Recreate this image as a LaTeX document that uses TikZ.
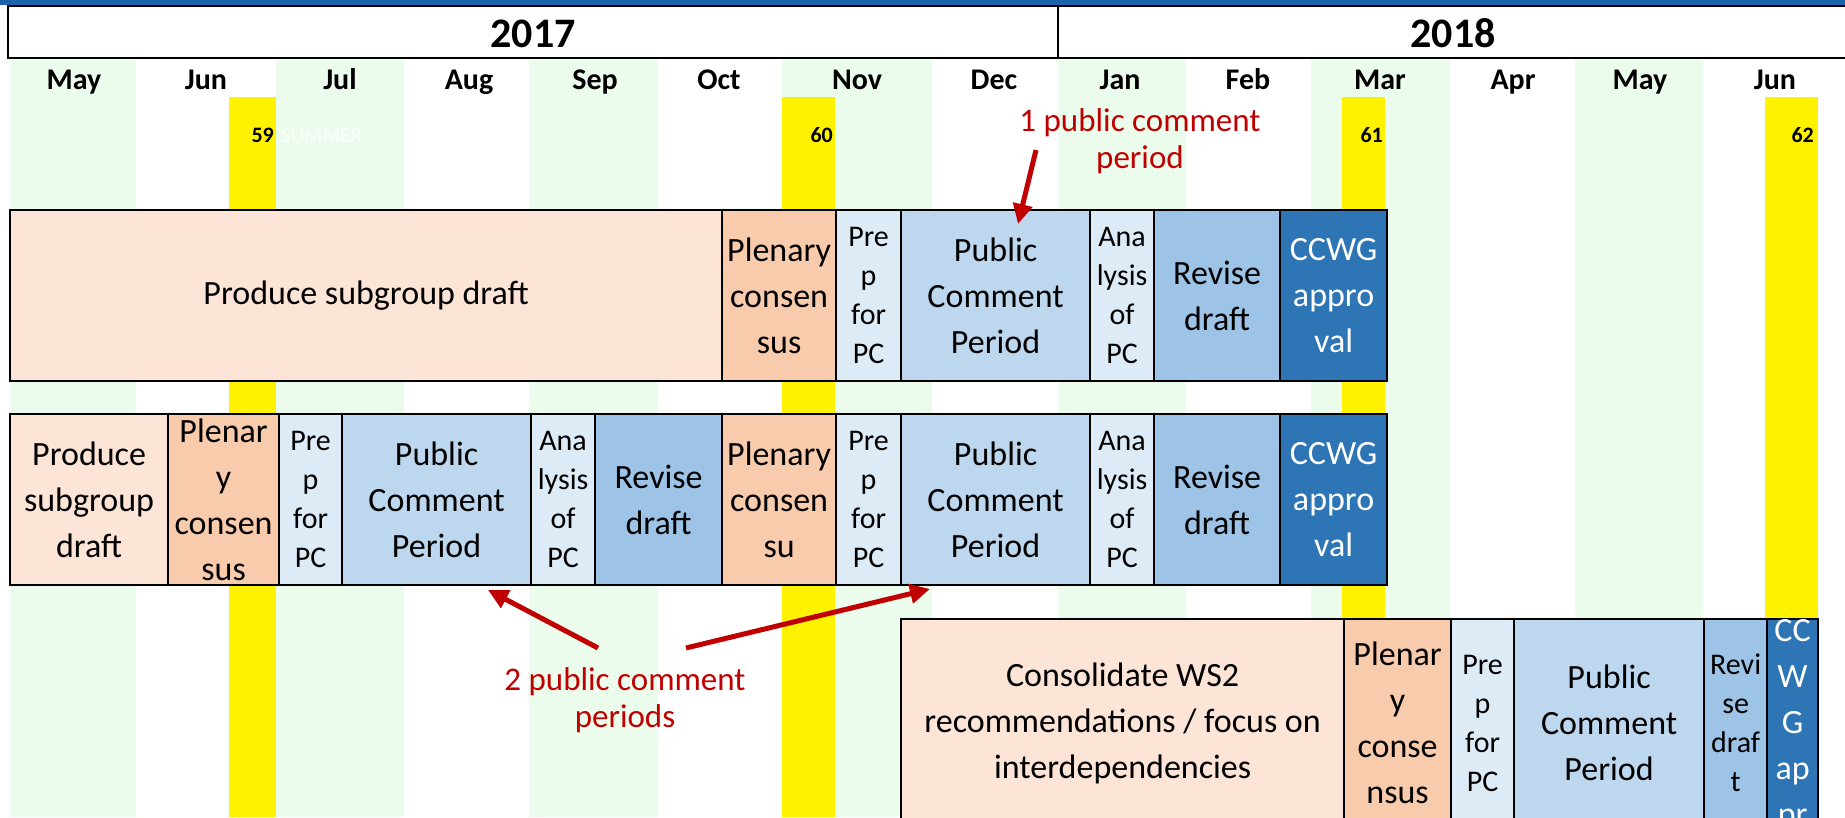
\documentclass[tikz,border=0pt]{standalone}
\usepackage{fontspec}
\setmainfont{Carlito}
\usetikzlibrary{arrows.meta}
\definecolor{bandblue}{RGB}{30,100,172}
\definecolor{gbg}{RGB}{235,252,236}
\definecolor{produce}{RGB}{252,228,214}
\definecolor{plenary}{RGB}{248,203,173}
\definecolor{prepc}{RGB}{221,235,247}
\definecolor{pubc}{RGB}{189,215,238}
\definecolor{revise}{RGB}{157,195,230}
\definecolor{ccwg}{RGB}{46,117,182}
\definecolor{annot}{RGB}{192,0,0}
\begin{document}
\begin{tikzpicture}[x=1pt,y=-1pt,
  seg/.style={draw=black, line width=2.2pt, inner sep=0pt, align=center, anchor=north west,
    font=\fontsize{34}{46}\selectfont},
  smalltxt/.style={font=\fontsize{30}{39}\selectfont},
  whitetxt/.style={text=white},
  month/.style={font=\fontsize{30}{34}\selectfont\bfseries, anchor=base, inner sep=0pt},
  year/.style={font=\fontsize{42}{48}\selectfont\bfseries, anchor=base, inner sep=0pt},
  meetnum/.style={font=\fontsize{22}{24}\selectfont\bfseries, anchor=base east, inner sep=0pt},
  annottxt/.style={font=\fontsize{33}{37}\selectfont, text=annot, align=center, inner sep=0pt},
  annotarrow/.style={draw=annot, line width=5pt, -{Triangle[length=20pt,width=19pt]}},
  r1/.style={minimum height=171pt},
  r3/.style={minimum height=208pt}
]
\useasboundingbox (0,0) rectangle (1845,817);
\clip (0,0) rectangle (1845,817);
\fill[white] (0,0) rectangle (1845,817);
% top band
\fill[bandblue] (0,0) rectangle (1845,5);
% green month columns
\foreach \a/\b in {10/136,276/404,529/658,782/932,1058/1186,1311/1450,1575/1703}
  \fill[gbg] (\a,60) rectangle (\b,817);
% yellow meeting columns
\foreach \a/\b in {229/276,782/835,1342/1385,1765/1818}
  \fill[yellow] (\a,97) rectangle (\b,817);
% header
\draw[line width=2.5pt, fill=white] (8,6) rectangle (1850,58);
\draw[line width=2pt] (1058,6) -- (1058,58);
\node[year] (y2017) at (533,47) {2017};
\node[year] (y2018) at (1453,47) {2018};
% months
\node[month] (m1) at (74,89) {May};
\node[month] (m2) at (206,89) {Jun};
\node[month] (m3) at (340,89) {Jul};
\node[month] (m4) at (469,89) {Aug};
\node[month] (m5) at (595,89) {Sep};
\node[month] (m6) at (719,89) {Oct};
\node[month] (m7) at (857,89) {Nov};
\node[month] (m8) at (994,89) {Dec};
\node[month] (m9) at (1120,89) {Jan};
\node[month] (m10) at (1248,89) {Feb};
\node[month] (m11) at (1380,89) {Mar};
\node[month] (m12) at (1513,89) {Apr};
\node[month] (m13) at (1640,89) {May};
\node[month] (m14) at (1775,89) {Jun};
% meeting numbers
\node[meetnum] (n59) at (274,142) {59};
\node[font=\fontsize{21}{24}\selectfont, text=white, anchor=base west, inner sep=0pt] (summer) at (281,142) {SUMMER};
\node[meetnum] (n60) at (833,142) {60};
\node[meetnum] (n61) at (1383,142) {61};
\node[meetnum] (n62) at (1814,142) {62};
% row 1
\node[seg,r1,fill=produce,minimum width=712pt] (r1a) at (9,209) {Produce subgroup draft};
\node[seg,r1,fill=plenary,minimum width=114pt] (r1b) at (721,209) {Plenary\\consen\\sus};
\node[seg,r1,smalltxt,fill=prepc,minimum width=65pt] (r1c) at (835,209) {Pre\\p\\for\\PC};
\node[seg,r1,fill=pubc,minimum width=189pt] (r1d) at (900,209) {Public\\Comment\\Period};
\node[seg,r1,smalltxt,fill=prepc,minimum width=64pt] (r1e) at (1089,209) {Ana\\lysis\\of\\PC};
\node[seg,r1,fill=revise,minimum width=126pt] (r1f) at (1153,209) {Revise\\draft};
\node[seg,r1,whitetxt,fill=ccwg,minimum width=107pt] (r1g) at (1279,209) {CCWG\\appro\\val};
% row 2
\node[seg,r1,fill=produce,minimum width=158pt] (r2a) at (9,413) {Produce\\subgroup\\draft};
\node[seg,r1,fill=plenary,minimum width=111pt] (r2b) at (167,413) {Plenar\\y\\consen\\sus};
\node[seg,r1,smalltxt,fill=prepc,minimum width=63pt] (r2c) at (278,413) {Pre\\p\\for\\PC};
\node[seg,r1,fill=pubc,minimum width=189pt] (r2d) at (341,413) {Public\\Comment\\Period};
\node[seg,r1,smalltxt,fill=prepc,minimum width=64pt] (r2e) at (530,413) {Ana\\lysis\\of\\PC};
\node[seg,r1,fill=revise,minimum width=127pt] (r2f) at (594,413) {Revise\\draft};
\node[seg,r1,fill=plenary,minimum width=114pt] (r2g) at (721,413) {Plenary\\consen\\su};
\node[seg,r1,smalltxt,fill=prepc,minimum width=65pt] (r2h) at (835,413) {Pre\\p\\for\\PC};
\node[seg,r1,fill=pubc,minimum width=189pt] (r2i) at (900,413) {Public\\Comment\\Period};
\node[seg,r1,smalltxt,fill=prepc,minimum width=64pt] (r2j) at (1089,413) {Ana\\lysis\\of\\PC};
\node[seg,r1,fill=revise,minimum width=126pt] (r2k) at (1153,413) {Revise\\draft};
\node[seg,r1,whitetxt,fill=ccwg,minimum width=107pt] (r2l) at (1279,413) {CCWG\\appro\\val};
% row 3
\node[seg,r3,fill=produce,minimum width=443pt] (r3a) at (900,618) {Consolidate WS2\\recommendations / focus on\\interdependencies};
\node[seg,r3,fill=plenary,minimum width=107pt] (r3b) at (1343,618) {Plenar\\y\\conse\\nsus};
\node[seg,r3,smalltxt,fill=prepc,minimum width=63pt] (r3c) at (1450,618) {Pre\\p\\for\\PC};
\node[seg,r3,fill=pubc,minimum width=190pt] (r3d) at (1513,618) {Public\\Comment\\Period};
\node[seg,r3,smalltxt,fill=revise,minimum width=63pt] (r3e) at (1703,618) {Revi\\se\\draf\\t};
\node[seg,r3,whitetxt,fill=ccwg,minimum width=51pt] (r3f) at (1766,618) {CC\\W\\G\\ap\\pr};
% annotations
\node[annottxt] (ann1) at (1140,141) {1 public comment\\period};
\node[annottxt] (ann2) at (625,700) {2 public comment\\periods};
\coordinate (a1s) at (1036,150);
\coordinate (a1e) at (1018,224);
\coordinate (a2s) at (598,648);
\coordinate (a2e) at (488,590);
\coordinate (a3s) at (686,648);
\coordinate (a3e) at (930,589);
\draw[annotarrow] (a1s) -- (a1e);
\draw[annotarrow] (a2s) -- (a2e);
\draw[annotarrow] (a3s) -- (a3e);
\end{tikzpicture}
\end{document}
